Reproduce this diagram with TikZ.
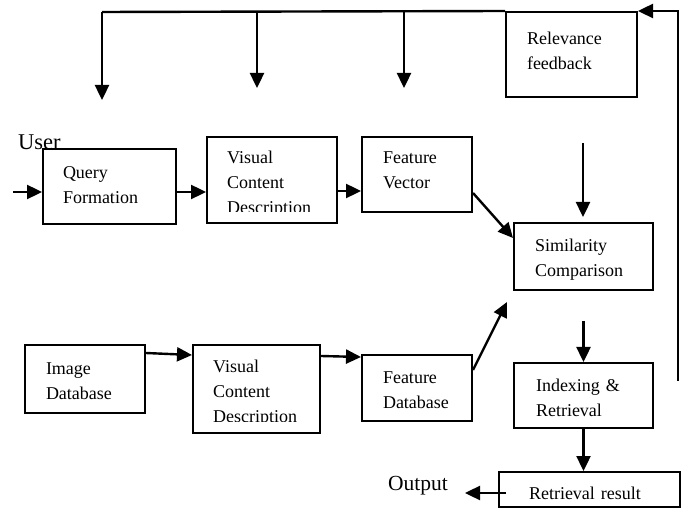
\documentclass[tikz,border=0pt]{standalone}
\usepackage{fontspec}
\setmainfont{Liberation Serif}
\usetikzlibrary{arrows.meta}

\begin{document}
\begin{tikzpicture}[x=1pt,y=-1pt,
  every node/.style={font=\fontsize{18}{25}\selectfont},
  box/.style={draw,line width=2pt,rectangle,inner sep=0pt,align=left},
  words/.style={inner sep=0pt,align=left},
  big/.style={inner sep=0pt,anchor=base west,font=\fontsize{21.5}{25}\selectfont},
  arr/.style={line width=2.4pt,-{Triangle[length=15pt,width=14pt]}},
  wire/.style={line width=2.4pt}]
\useasboundingbox (0,0) rectangle (688,518);

% free labels
\node[big,font=\fontsize{22.5}{25}\selectfont] (user) at (18,150) {User};
\node[big] (out) at (388,490) {Output};

% query path
\node[box,minimum width=131pt,minimum height=85pt,text width=89pt,text height=4.2pt]
  (rel) at (571.5,54.5) {Relevance\\feedback};
\node[box,minimum width=133pt,minimum height=75pt,text width=93pt,text height=9.2pt]
  (qf) at (109.5,186.5) {Query\\Formation};
\node[box,minimum width=130pt,minimum height=86pt] (vcd1) at (272,180) {};
\begin{scope}
  \clip (vcd1.north west) rectangle (337,212);
  \node[words,anchor=base west,text width=90pt] (vcd1t) at (227,164) {Visual\\Content\\Description};
\end{scope}
\node[box,minimum width=110pt,minimum height=75pt,text width=68pt,text height=4.2pt]
  (fv) at (417,174.5) {Feature\\Vector};
\node[box,minimum width=139pt,minimum height=67pt,text width=97pt,text height=18.2pt]
  (sim) at (583.5,256.5) {Similarity\\Comparison};

% database path
\node[box,minimum width=120pt,minimum height=68pt,text width=78pt,text height=15.2pt]
  (imgdb) at (85,379) {Image\\Database};
\node[box,minimum width=127pt,minimum height=88pt] (vcd2) at (256.5,389) {};
\begin{scope}
  \clip (vcd2.north west) rectangle (320,421);
  \node[words,anchor=base west,text width=87pt] (vcd2t) at (213,373) {Visual\\Content\\Description};
\end{scope}
\node[box,minimum width=110pt,minimum height=66pt,text width=68pt,text height=15.2pt]
  (fdb) at (417,388) {Feature\\Database};
\node[box,minimum width=139pt,minimum height=65pt,text width=95pt,text height=16.2pt]
  (idx) at (583.5,395.5) {Indexing \&\\Retrieval};
\node[box,minimum width=181pt,minimum height=35pt,text width=121pt,text height=20pt]
  (res) at (589.5,489.5) {Retrieval result};

% loose ends of connectors
\coordinate (fbA) at (102,12);
\coordinate (fbB) at (257,12);
\coordinate (fbC) at (404,12);
\coordinate (tipA) at (102,100);
\coordinate (tipB) at (257,88);
\coordinate (tipC) at (404,88);
\coordinate (loopEnd) at (678,381);
\coordinate (usrIn) at (13,192);
\coordinate (simIn) at (583,143);
\coordinate (simTip) at (583,217);
\coordinate (fdbTip) at (507,302);
\coordinate (idxIn) at (583.5,321);
\coordinate (outTip) at (465,493);

% relevance feedback loop
\draw[wire] (rel.north west) -- (fbA);
\draw[arr] (fbA) -- (tipA);
\draw[arr] (fbB) -- (tipB);
\draw[arr] (fbC) -- (tipC);
\draw[arr] (loopEnd) -- (loopEnd |- rel.north east) -- (rel.north east);

% query flow
\draw[arr] (usrIn) -- (usrIn -| qf.west);
\draw[arr] ([yshift=-5.5pt]qf.east) coordinate (q1) -- (q1 -| vcd1.west);
\draw[arr] ([yshift=-11pt]vcd1.east) coordinate (v1) -- (v1 -| fv.west);
\draw[arr] ([yshift=-18.5pt]fv.east) -- ([yshift=18.5pt]sim.west);
\draw[arr] (simIn) -- (simTip);

% database flow
\draw[arr] ([yshift=-9pt]imgdb.north east) -- ([yshift=-11pt]vcd2.north west);
\draw[arr] ([yshift=-12pt]vcd2.north east) -- ([yshift=-3pt]fdb.north west);
\draw[arr] ([yshift=18pt]fdb.east) -- (fdbTip);

% retrieval
\draw[arr] (idxIn) -- (idxIn |- idx.north);
\draw[arr] (idx.south) -- (idx.south |- res.north);
\draw[arr] ([shift={(8pt,-3.5pt)}]res.west) -- (outTip);
\end{tikzpicture}
\end{document}
